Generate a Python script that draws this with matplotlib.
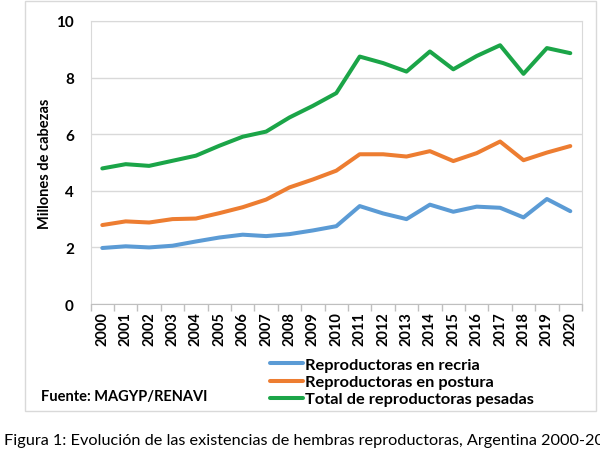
import matplotlib
matplotlib.use("Agg")
import matplotlib.pyplot as plt
from matplotlib.patches import Rectangle

plt.rcParams['font.family'] = ['Lato', 'DejaVu Sans']

years = [str(y) for y in range(2000, 2021)]
recria = [1.98, 2.04, 2.00, 2.06, 2.21, 2.35, 2.45, 2.40, 2.47, 2.60, 2.75,
          3.46, 3.20, 3.00, 3.51, 3.26, 3.44, 3.40, 3.06, 3.71, 3.28]
postura = [2.79, 2.92, 2.88, 3.00, 3.02, 3.21, 3.42, 3.69, 4.12, 4.40, 4.71,
           5.29, 5.29, 5.21, 5.40, 5.05, 5.33, 5.74, 5.08, 5.35, 5.58]
total = [4.79, 4.94, 4.88, 5.06, 5.24, 5.59, 5.91, 6.09, 6.59, 7.00, 7.45,
         8.74, 8.51, 8.21, 8.92, 8.29, 8.76, 9.14, 8.13, 9.04, 8.86]
labels = ['Reproductoras en recria', 'Reproductoras en postura',
          'Total de reproductoras pesadas']
colors = ['#5B9BD5', '#ED7D31', '#1BA548']

fig = plt.figure(figsize=(6, 4.56), dpi=100)
fig.patches.append(Rectangle((25 / 600, 1 - 412 / 456), 571 / 600, 410 / 456,
                             transform=fig.transFigure, fill=False,
                             edgecolor='#D9D9D9', linewidth=1))

ax = fig.add_axes([0.151, 0.331, 0.819, 0.621])
x = range(len(years))
for vals, lab, col in zip([recria, postura, total], labels, colors):
    ax.plot(x, vals, color=col, linewidth=2.9, label=lab, solid_capstyle='round')

ax.set_xlim(-0.5, len(years) - 0.5)
ax.set_ylim(0, 10)
ax.set_yticks([0, 2, 4, 6, 8, 10])
ax.set_xticks(list(x))
ax.set_xticklabels(years, rotation=90, fontweight='bold', fontsize=10.5)
ax.set_xticks([i - 0.5 for i in range(len(years) + 1)], minor=True)
ax.tick_params(axis='x', which='major', length=0, pad=5)
ax.tick_params(axis='x', which='minor', length=5, color='#BFBFBF', width=1)
ax.tick_params(axis='y', length=0, pad=12)
for t in ax.get_yticklabels():
    t.set_fontweight('bold')
    t.set_fontsize(11)
ax.grid(axis='y', color='#D9D9D9', linewidth=1)
ax.set_axisbelow(True)
for s in ax.spines.values():
    s.set_color('#D9D9D9')
ax.spines['bottom'].set_color('#BFBFBF')
ax.set_ylabel('Millones de cabezas', fontweight='bold', fontsize=10.5, labelpad=3)

fig.legend(loc='center left', bbox_to_anchor=(270 / 600, 1 - 383 / 456),
           frameon=False, handlelength=2.0, handletextpad=0.12,
           labelspacing=0.16, borderpad=0, borderaxespad=0,
           prop={'weight': 'bold', 'size': 11.8})

fig.text(41 / 600, 1 - 397 / 456, 'Fuente: MAGYP/RENAVI', fontweight='bold',
         fontsize=10.5, va='center', ha='left')
# the caption runs past the right edge in the original as well
fig.text(4 / 600, 1 - 441 / 456,
         'Figura 1: Evolución de las existencias de hembras reproductoras, Argentina 2000-2020',
         fontsize=11.7, va='center', ha='left')

fig.savefig('out.png', dpi=100)
